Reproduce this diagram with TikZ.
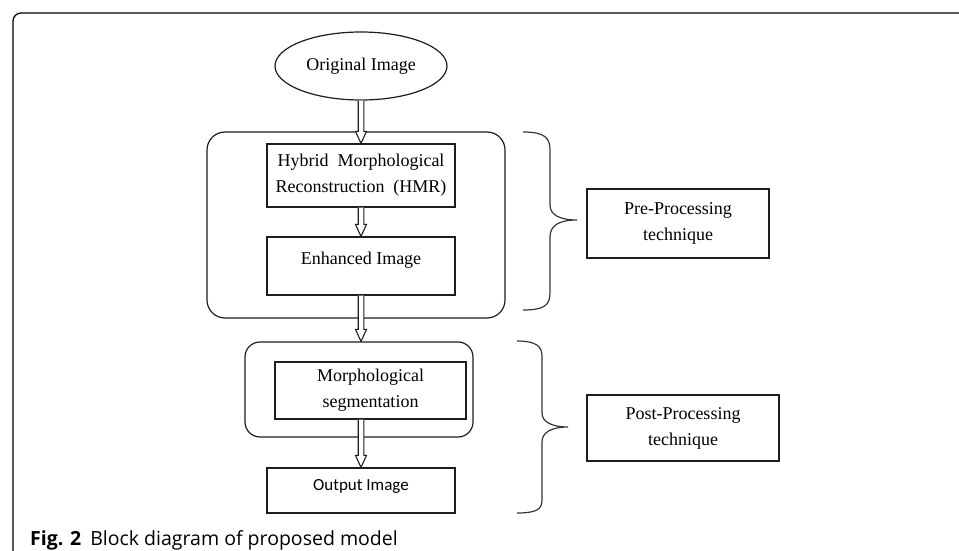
\documentclass[tikz,border=0pt]{standalone}
\usepackage{fontspec}
\setmainfont{Liberation Serif}
\newfontfamily\outfont{Carlito}
\newfontfamily\capfont{Open Sans}
\usetikzlibrary{shapes.geometric,calc}
\definecolor{boxline}{RGB}{30,30,30}
\definecolor{braceline}{RGB}{55,55,55}

\tikzset{
  blockbox/.style={draw=boxline,line width=1.2pt,fill=white,align=center,inner sep=0pt,
    font=\fontsize{18}{26}\selectfont},
  groupbox/.style={draw=boxline,line width=1.2pt,inner sep=0pt},
  flowarrow/.style={draw=boxline,line width=1.1pt,fill=white,line join=miter},
  bracepath/.style={draw=braceline,line width=1.2pt}
}
% hollow block arrow from #1 down to #2
\newcommand{\hollowarrow}[2]{%
  \draw[flowarrow] ($(#1)+(-2.8,0)$) -- ($(#1 |- #2)+(-2.8,-12)$) -- ($(#1 |- #2)+(-5.5,-12)$)
    -- (#1 |- #2) -- ($(#1 |- #2)+(5.5,-12)$) -- ($(#1 |- #2)+(2.8,-12)$) -- ($(#1)+(2.8,0)$);}

\begin{document}
\begin{tikzpicture}[x=1pt,y=-1pt]
  \useasboundingbox[fill=white] (0,0) rectangle (959,551);
  % frame:
  \draw[line width=1.3pt,rounded corners=8pt] (13,551) -- (13,13) -- (959,13);

  % groups:
  \node[groupbox,rounded corners=18pt,minimum width=298pt,minimum height=186pt] (pregroup) at (356,225) {};
  \node[groupbox,rounded corners=15pt,minimum width=228pt,minimum height=95pt] (postgroup) at (359,389.5) {};

  \node[blockbox,ellipse,minimum width=172pt,minimum height=68pt] (orig) at (361,66) {Original Image};
  \node[blockbox,minimum width=188pt,minimum height=63pt] (hmr) at (361,175.5) {Hybrid\ \ Morphological\\Reconstruction\ \ (HMR)};
  \node[blockbox,minimum width=188pt,minimum height=58pt,text depth=16pt] (enh) at (361,266) {Enhanced Image};
  \node[blockbox,minimum width=191pt,minimum height=57pt] (seg) at (370.5,390.5) {Morphological\\segmentation};
  \node[blockbox,minimum width=188pt,minimum height=45pt,text depth=12pt,font=\outfont\fontsize{17}{20}\selectfont] (out) at (361,490.5) {Output Image};

  \node[blockbox,minimum width=182pt,minimum height=69pt] (pre) at (678,223.5) {Pre-Processing\\technique};
  \node[blockbox,minimum width=192pt,minimum height=66pt] (post) at (683,428) {Post-Processing\\technique};

  % arrows:
  \hollowarrow{orig.south}{hmr.north}
  \hollowarrow{hmr.south}{enh.north}
  \hollowarrow{enh.south}{postgroup.north}
  \hollowarrow{enh.south |- seg.south}{out.north}

  % braces:
  \draw[bracepath] (523,132) .. controls (545,132) and (550,138) .. (550,150) -- (550,205)
    .. controls (550,215) and (560,220) .. (577,220)
    .. controls (560,220) and (550,225) .. (550,237) -- (550,292)
    .. controls (550,305) and (545,310) .. (523,310);
  \draw[bracepath] (517,341) .. controls (537,341) and (542,347) .. (542,356) -- (542,413)
    .. controls (542,422) and (552,427) .. (568,427)
    .. controls (552,427) and (542,432) .. (542,442) -- (542,500)
    .. controls (542,509) and (537,513) .. (517,513);

  % caption:
  \node[anchor=base west,inner sep=0pt,font=\capfont\fontsize{19.5}{21}\selectfont] (caption) at (30,545)
    {\textbf{Fig. 2}\hspace{9pt}Block diagram of proposed model};
\end{tikzpicture}
\end{document}
